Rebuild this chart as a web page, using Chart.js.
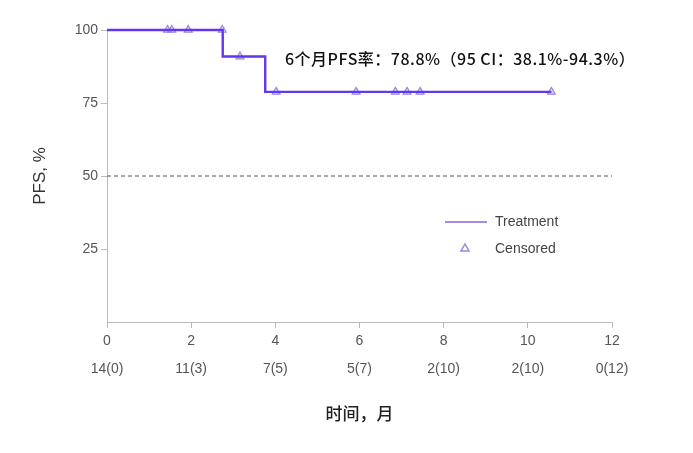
<!DOCTYPE html>
<html>
<head>
<meta charset="utf-8">
<script src="https://cdn.jsdelivr.net/npm/chart.js@4"></script>
<style>
  html, body { margin: 0; padding: 0; background: #fff; }
  #wrap { width: 693px; height: 453px; }
</style>
</head>
<body>
<div id="wrap"><canvas id="km" width="693" height="453"></canvas></div>
<script>
// data
const months = [0, 2, 4, 6, 8, 10, 12];
const atRisk = ['14(0)', '11(3)', '7(5)', '5(7)', '2(10)', '2(10)', '0(12)'];
const yTicks = [25, 50, 75, 100];
const stepTimes = [0, 2.75, 3.76, 10.56];
const stepPFS = [100, 90.9, 78.8, 78.8];
const censorTimes = [1.44, 1.54, 1.93, 2.74, 3.16, 4.02, 5.92, 6.85, 7.13, 7.44, 10.56];
const censorPFS = [100, 100, 100, 100, 90.9, 78.8, 78.8, 78.8, 78.8, 78.8, 78.8];
const refTimes = [0, 12];
const refPFS = [50, 50];
const noteText = '6个月PFS率：78.8%（95 CI：38.1%-94.3%）';

const pts = (xs, ys) => xs.map((x, i) => ({ x, y: ys[i] }));
const sans = '"Liberation Sans", Arial, sans-serif';
const cjk = '"Noto Sans CJK SC", sans-serif';

// legend + annotation drawn on top
const extras = {
  id: 'extras',
  afterDraw(chart) {
    const ctx = chart.ctx;
    ctx.save();
    ctx.font = '500 16px ' + cjk;
    ctx.fillStyle = '#111';
    ctx.textBaseline = 'middle';
    ctx.letterSpacing = '0.5px';
    ctx.fillText(noteText, 285, 59);
    ctx.letterSpacing = '0px';

    ctx.strokeStyle = '#a58ae6';
    ctx.lineWidth = 2;
    ctx.beginPath();
    ctx.moveTo(445, 222);
    ctx.lineTo(487, 222);
    ctx.stroke();

    ctx.strokeStyle = '#9a86e0';
    ctx.lineWidth = 1.5;
    ctx.beginPath();
    ctx.moveTo(465, 244);
    ctx.lineTo(469, 251);
    ctx.lineTo(461, 251);
    ctx.closePath();
    ctx.stroke();

    ctx.font = '14px ' + sans;
    ctx.fillStyle = '#444';
    ctx.fillText('Treatment', 495, 222);
    ctx.fillText('Censored', 495, 249);
    ctx.restore();
  }
};

new Chart(document.getElementById('km').getContext('2d'), {
  type: 'line',
  data: {
    datasets: [
      { data: pts(refTimes, refPFS), borderColor: '#555', borderWidth: 1, borderDash: [4, 3], pointRadius: 0 },
      { data: pts(stepTimes, stepPFS), stepped: 'before', borderColor: '#6436ee', borderWidth: 2.4, pointRadius: 0, clip: 6 },
      { data: pts(stepTimes, stepPFS), stepped: 'before', borderColor: '#2a1a9e', borderWidth: 1, borderDash: [6, 4], pointRadius: 0, clip: 6 },
      { type: 'scatter', data: pts(censorTimes, censorPFS), pointStyle: 'triangle', pointRadius: 4.5, clip: 8,
        borderColor: '#9a86e0', backgroundColor: 'rgba(190,180,245,0.45)', borderWidth: 1.2 }
    ]
  },
  options: {
    responsive: false,
    animation: false,
    layout: { padding: { top: 30, right: 81, left: 0, bottom: 0 } },
    plugins: { legend: { display: false }, tooltip: { enabled: false } },
    scales: {
      x: {
        type: 'linear', min: 0, max: 12,
        afterBuildTicks: s => { s.ticks = months.map(v => ({ value: v })); },
        afterFit: s => { s.height = 131; },
        grid: { drawOnChartArea: false, tickLength: 6, color: '#bbb' },
        border: { color: '#bbb' },
        ticks: {
          padding: 6, color: '#555', maxRotation: 0, autoSkip: false,
          font: { family: sans, size: 14, lineHeight: 1.0 },
          callback: (v, i) => [String(v), '', atRisk[months.indexOf(v)]]
        },
        title: { display: true, text: '时间，月', color: '#222', padding: { top: 0, bottom: 29 },
          font: { family: cjk, size: 17, weight: '500' } }
      },
      y: {
        min: 0, max: 100,
        afterBuildTicks: s => { s.ticks = yTicks.map(v => ({ value: v })); },
        afterFit: s => { s.width = 107; },
        grid: { drawOnChartArea: false, tickLength: 6, color: '#bbb' },
        border: { color: '#bbb' },
        ticks: { padding: 3, color: '#555', font: { family: sans, size: 14 } },
        title: { display: true, text: 'PFS, %', color: '#333', padding: { top: 30, bottom: 0 },
          font: { family: sans, size: 17 } }
      }
    }
  },
  plugins: [extras]
});
</script>
</body>
</html>
